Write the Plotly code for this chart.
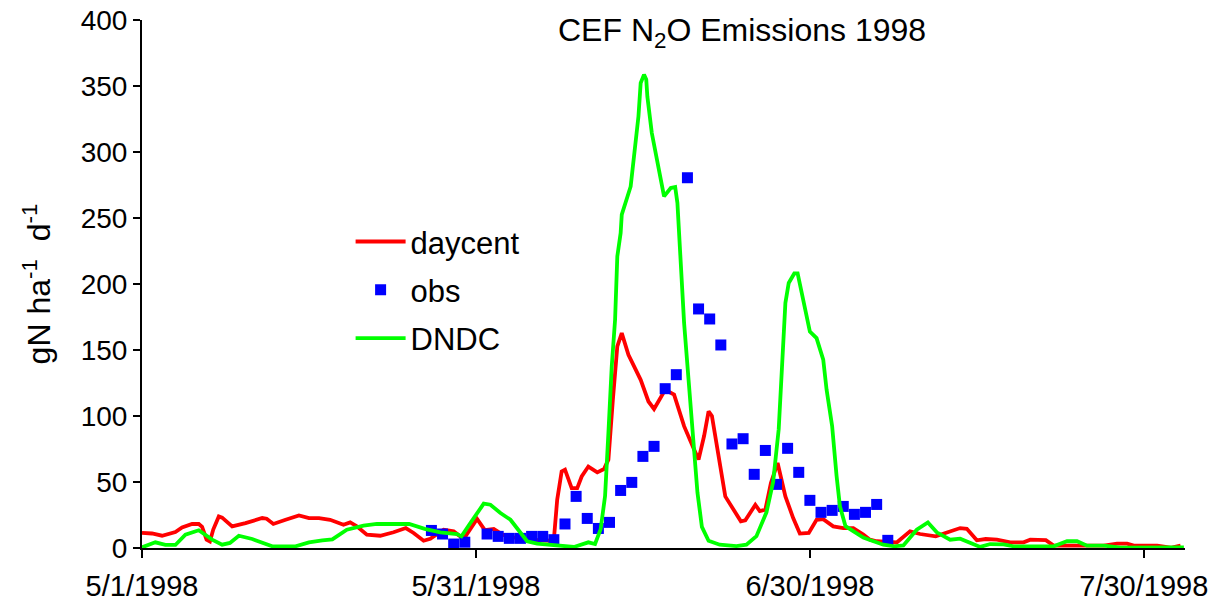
import pandas as pd
import plotly.graph_objects as go

START = pd.Timestamp("1998-05-01")

# DNDC modelled flux (day offset from 5/1/1998, gN ha-1 d-1)
dndc_days = [0, 1.2, 2.1, 3, 3.9, 5.1, 6.3, 7.2, 7.9, 8.7, 9.9, 11.7, 13.8, 15, 16.2, 17.1,
             18.4, 19.9, 21.1, 24, 25.4, 26.8, 28.3, 28.7, 29.5, 30.7, 31.3, 32.2, 33.1, 34,
             34.6, 35.5, 36.7, 37.3, 38.8, 40.1, 40.7, 41.2, 41.6, 41.9, 42.2, 42.5, 42.7, 43.0,
             43.1, 43.9, 44.3, 44.6, 44.8, 45.1, 45.3, 45.4, 45.8, 46.1, 46.4, 46.7, 46.9, 47.5,
             47.9, 48.1, 48.4, 48.7, 49.1, 49.6, 49.9, 50.3, 50.9, 51.9, 53.4, 54.3, 55.2, 56.1,
             56.7, 57.2, 57.5, 57.8, 58.1, 58.6, 58.9, 59.4, 59.7, 60.0, 60.6, 61.2, 61.5, 62.0,
             62.4, 62.7, 63.2, 63.9, 64.8, 65.4, 66.6, 67.6, 68.4, 69.6, 70.6, 71.4, 72.6, 73.5,
             74.4, 75.3, 76.2, 77.4, 78.3, 81.9, 83.1, 84.0, 84.9, 86.4, 87.9, 93.6]
dndc_vals = [0.5, 4.3, 2.3, 2.3, 10.1, 13.4, 6.3, 2.5, 3.8, 9.3, 6.8, 1.3, 1.3, 4.3, 5.8, 6.5,
             13.9, 16.9, 18.2, 18.2, 14.5, 11.9, 10.6, 8.8, 18.9, 33.6, 32.8, 26.5, 21.4, 11.4,
             5.1, 3.3, 2.5, 2.5, 0.8, 4.3, 3.0, 14.1, 39.3, 87.1, 137.6, 172.9, 220.9, 238.6,
             252.5, 273.9, 301.8, 327, 352.3, 358.6, 355, 342, 314.4, 301.8, 289.2, 276.5, 266.4, 272.7,
             273.5, 261.4, 216, 170.6, 127.6, 77, 42, 16, 5.5, 2.5, 1.5, 2.5, 9, 27,
             50, 90, 140, 185.6, 200.8, 208, 208, 188, 172.9, 164, 159, 142.7, 120, 92.3,
             54.5, 31.6, 16.5, 12.9, 7.9, 6, 2.5, 1.3, 2, 13.9, 19.4, 11.9, 6.3, 7.1,
             4, 0.8, 3.0, 2.8, 1.3, 1.3, 5.1, 5.1, 1.8, 1.8, 0.3, 0.5]

# DayCent modelled flux
daycent_days = [0, 0.9, 1.8, 3, 3.6, 4.5, 5.1, 5.4, 5.8, 6.1, 6.4, 6.9, 7.2, 8.1, 9.3, 10.8,
                11.2, 11.8, 12.9, 14.1, 15, 15.9, 16.9, 18.1, 18.7, 19.3, 20.2, 21.4, 22.6, 23.7,
                24.4, 25.3, 25.9, 27.1, 28, 28.6, 28.9, 30.1, 30.8, 31.6, 32.4, 33.4, 34.6, 36.7,
                37.0, 37.3, 37.7, 38.0, 38.6, 39.1, 39.5, 40.1, 40.9, 41.5, 41.9, 42.3, 42.7, 43.1,
                43.7, 44.8, 45.5, 46.0, 47.0, 47.8, 48.7, 49.6, 50.0, 50.5, 50.9, 51.2, 52.0, 52.4,
                53.8, 54.2, 55.1, 55.5, 56.0, 56.5, 57.1, 57.8, 58.5, 59.1, 59.9, 60.6, 61.2, 62.1,
                63.0, 63.9, 64.8, 65.4, 66.0, 67.8, 69.0, 69.9, 71.3, 72.3, 73.5, 74.1, 75.0, 75.8,
                76.8, 78.0, 79.2, 79.8, 81.2, 81.9, 86.4, 87.6, 88.5, 89.1, 91.2, 92.4, 93.3]
daycent_vals = [11.4, 11.0, 9.3, 12.1, 15.6, 18.2, 18.2, 16, 6.3, 5.0, 14, 23.9, 23, 16.4, 18.9, 22.7,
                22.2, 18.2, 21.4, 24.7, 22.7, 22.7, 21.4, 17.6, 19.4, 16.5, 10.1, 9.3, 11.9, 15.1,
                11.4, 5.5, 7, 13.9, 12.6, 8.8, 6.8, 22, 13.5, 14.4, 10.1, 8, 6.3, 5.5,
                6.3, 36.6, 58, 59.3, 45.4, 45.4, 54.2, 61.7, 57.3, 59.8, 66.9, 112.3, 152.7, 162.8,
                146.4, 127.4, 111, 105.3, 119.9, 116.2, 92.3, 74.6, 67, 85, 103.5, 100, 56.8, 39.1,
                20.2, 21, 32.7, 28, 29, 49.2, 64.4, 39.1, 22.7, 10.9, 11.4, 21.4, 21.9, 16.4,
                15.1, 15.1, 10.1, 6.3, 5.1, 4.2, 12.6, 10.6, 8.8, 11.4, 15.1, 14.5, 5.8, 6.8,
                6.3, 4.3, 4.3, 6.3, 6.0, 1.8, 1.8, 3.3, 3.3, 1.8, 1.8, 0.2, 1.8]

# Observations
obs_days = [26, 27, 28, 29, 31, 32, 33, 34, 35, 36, 37, 38, 39, 40, 41, 42, 43, 44, 45, 46,
            47, 48, 49, 50, 51, 52, 53, 54, 55, 56, 57, 58, 59, 60, 61, 62, 63, 64, 65, 66, 67]
obs_vals = [13.3, 10.6, 3.0, 4.4, 10.6, 8.8, 7.3, 7.3, 8.8, 8.8, 6.3, 18.2, 39.1, 22.4, 14.8,
            19.4, 43.6, 49.7, 69.4, 77.0, 120.7, 131.3, 280.5, 181.1, 173.5, 153.8, 78.8, 82.8,
            55.8, 73.9, 48.2, 75.5, 57.3, 36.1, 27.0, 28.5, 31.5, 25.5, 27.0, 33.0, 5.8]

tick_dates = ["1998-05-01", "1998-05-31", "1998-06-30", "1998-07-30"]
tick_labels = ["5/1/1998", "5/31/1998", "6/30/1998", "7/30/1998"]
y_ticks = [0, 50, 100, 150, 200, 250, 300, 350, 400]


def to_dates(days):
    return [START + pd.Timedelta(days=d) for d in days]


FONT = "Liberation Sans, Arial, sans-serif"

fig = go.Figure()
fig.add_trace(go.Scatter(x=to_dates(daycent_days), y=daycent_vals, mode="lines", name="daycent",
                         legendgroup="a", line=dict(color="#FF0000", width=3.8)))
fig.add_trace(go.Scatter(x=to_dates(obs_days), y=obs_vals, mode="markers", name="obs",
                         legendgroup="b",
                         marker=dict(color="#0000FF", symbol="square", size=11, line=dict(width=0))))
fig.add_trace(go.Scatter(x=to_dates(dndc_days), y=dndc_vals, mode="lines", name="DNDC",
                         legendgroup="c", line=dict(color="#00FF00", width=3.8)))

fig.update_layout(
    width=1222, height=616,
    margin=dict(l=142, r=37, t=20, b=68),
    paper_bgcolor="white", plot_bgcolor="white",
    font=dict(family=FONT, size=28, color="black"),
    showlegend=True,
    legend=dict(x=0.2, y=0.631, xanchor="left", yanchor="top", bgcolor="rgba(0,0,0,0)",
                font=dict(size=31), itemwidth=50, tracegroupgap=5),
    annotations=[dict(text="CEF N<sub>2</sub>O Emissions 1998", xref="paper", yref="paper",
                      x=0.575, y=0.977, xanchor="center", yanchor="middle", showarrow=False,
                      font=dict(size=32))],
)
fig.update_xaxes(
    range=[START, START + pd.Timedelta(days=93.7)],
    tickvals=tick_dates, ticktext=tick_labels,
    showline=True, linecolor="black", linewidth=2,
    ticks="outside", ticklen=8, tickwidth=2, tickcolor="black",
    showgrid=False, zeroline=False, tickfont=dict(size=29), ticklabelstandoff=3,
    ticklabeloverflow="allow", automargin=False,
)
fig.update_yaxes(
    range=[0, 400], tickvals=y_ticks,
    showline=True, linecolor="black", linewidth=2,
    ticks="outside", ticklen=7, tickwidth=2, tickcolor="black",
    showgrid=False, zeroline=False, tickfont=dict(size=28),
    ticklabeloverflow="allow", automargin=False,
    title=dict(text="gN ha<sup>-1</sup>&nbsp; d<sup>-1</sup>", font=dict(size=32), standoff=20),
)

fig.write_html("out.html")
